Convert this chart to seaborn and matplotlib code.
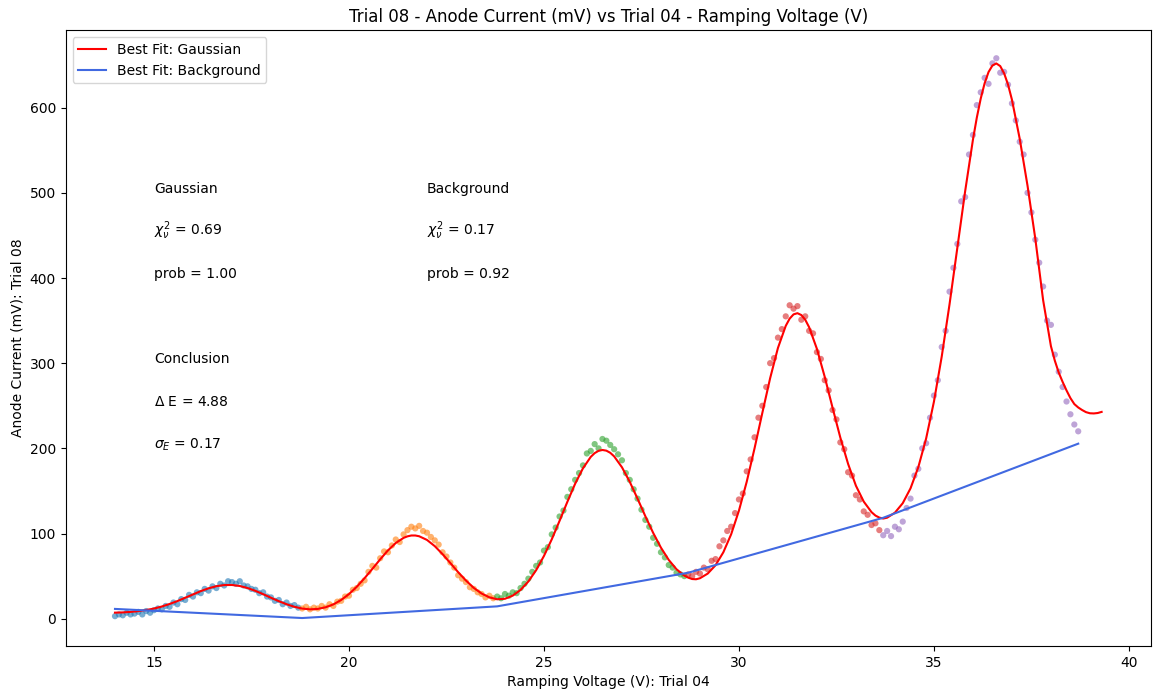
import matplotlib
matplotlib.use("Agg")
import matplotlib.pyplot as plt
import pandas as pd
import seaborn as sns

# Measured points, one list per peak window (colour groups in the plot)
seg1_v = [14.0, 14.1, 14.2, 14.3, 14.4, 14.5, 14.6, 14.7, 14.8, 14.9,
          15.0, 15.1, 15.2, 15.3, 15.4, 15.5, 15.6, 15.7, 15.8, 15.9,
          16.0, 16.1, 16.2, 16.3, 16.4, 16.5, 16.6, 16.7, 16.8, 16.9,
          17.0, 17.1, 17.2, 17.3, 17.4, 17.5, 17.6, 17.7, 17.8, 17.9,
          18.0, 18.1, 18.2, 18.3, 18.4, 18.5, 18.6, 18.7]
seg1_i = [3, 5, 4, 7, 5, 6, 8, 5, 9, 7,
          10, 12, 11, 15, 14, 19, 17, 23, 22, 28,
          26, 31, 30, 35, 33, 38, 36, 41, 39, 44,
          43, 41, 44, 39, 38, 35, 34, 30, 31, 26,
          25, 21, 22, 17, 19, 15, 16, 13]

seg2_v = [18.8, 18.9, 19.0, 19.1, 19.2, 19.3, 19.4, 19.5, 19.6, 19.7,
          19.8, 19.9, 20.0, 20.1, 20.2, 20.3, 20.4, 20.5, 20.6, 20.7,
          20.8, 20.9, 21.0, 21.1, 21.2, 21.3, 21.4, 21.5, 21.6, 21.7,
          21.8, 21.9, 22.0, 22.1, 22.2, 22.3, 22.4, 22.5, 22.6, 22.7,
          22.8, 22.9, 23.0, 23.1, 23.2, 23.3, 23.4, 23.5, 23.6, 23.7]
seg2_i = [12, 14, 11, 13, 12, 15, 13, 17, 15, 20,
          21, 26, 27, 34, 36, 41, 45, 55, 62, 60,
          71, 79, 78, 86, 93, 90, 99, 104, 108, 106,
          109, 103, 101, 96, 92, 87, 78, 73, 66, 60,
          51, 47, 43, 37, 35, 31, 29, 25, 27, 24]

seg3_v = [23.8, 23.9, 24.0, 24.1, 24.2, 24.3, 24.4, 24.5, 24.6, 24.7,
          24.8, 24.9, 25.0, 25.1, 25.2, 25.3, 25.4, 25.5, 25.6, 25.7,
          25.8, 25.9, 26.0, 26.1, 26.2, 26.3, 26.4, 26.5, 26.6, 26.7,
          26.8, 26.9, 27.0, 27.1, 27.2, 27.3, 27.4, 27.5, 27.6, 27.7,
          27.8, 27.9, 28.0, 28.1, 28.2, 28.3, 28.4, 28.5, 28.6]
seg3_i = [26, 24, 29, 27, 31, 30, 36, 41, 47, 55,
          62, 66, 80, 84, 99, 107, 120, 127, 143, 152,
          163, 171, 180, 194, 197, 205, 200, 211, 209, 204,
          199, 193, 186, 171, 163, 152, 141, 128, 116, 108,
          95, 88, 78, 72, 63, 60, 54, 52, 50]

seg4_v = [28.7, 28.8, 28.9, 29.0, 29.1, 29.2, 29.3, 29.4, 29.5, 29.6,
          29.7, 29.8, 29.9, 30.0, 30.1, 30.2, 30.3, 30.4, 30.5, 30.6,
          30.7, 30.8, 30.9, 31.0, 31.1, 31.2, 31.3, 31.4, 31.5, 31.6,
          31.7, 31.8, 31.9, 32.0, 32.1, 32.2, 32.3, 32.4, 32.5, 32.6,
          32.7, 32.8, 32.9, 33.0, 33.1, 33.2, 33.3, 33.4, 33.5, 33.6]
seg4_i = [52, 50, 55, 53, 60, 58, 68, 70, 85, 92,
          103, 108, 124, 140, 147, 173, 187, 213, 236, 250,
          272, 300, 306, 330, 340, 355, 368, 364, 367, 351,
          355, 338, 335, 313, 305, 280, 268, 245, 234, 207,
          199, 172, 168, 145, 140, 126, 122, 110, 112, 104]

seg5_v = [33.7, 33.8, 33.9, 34.0, 34.1, 34.2, 34.3, 34.4, 34.5, 34.6,
          34.7, 34.8, 34.9, 35.0, 35.1, 35.2, 35.3, 35.4, 35.5, 35.6,
          35.7, 35.8, 35.9, 36.0, 36.1, 36.2, 36.3, 36.4, 36.5, 36.6,
          36.7, 36.8, 36.9, 37.0, 37.1, 37.2, 37.3, 37.4, 37.5, 37.6,
          37.7, 37.8, 37.9, 38.0, 38.1, 38.2, 38.3, 38.4, 38.5, 38.6,
          38.7]
seg5_i = [98, 103, 97, 108, 105, 114, 130, 141, 168, 176,
          200, 206, 236, 262, 280, 319, 338, 384, 412, 440,
          490, 495, 545, 568, 603, 618, 635, 628, 652, 658,
          641, 642, 627, 605, 585, 560, 545, 500, 477, 445,
          418, 390, 350, 345, 310, 290, 272, 255, 240, 228,
          220]

# Gaussian best-fit curve
fit_v = [14.0, 14.2, 14.4, 14.6, 14.8, 15.0, 15.2, 15.4, 15.6, 15.8,
         16.0, 16.2, 16.4, 16.6, 16.8, 17.0, 17.2, 17.4, 17.6, 17.8,
         18.0, 18.2, 18.4, 18.6, 18.8, 19.0, 19.2, 19.4, 19.6, 19.8,
         20.0, 20.2, 20.4, 20.6, 20.8, 21.0, 21.2, 21.4, 21.5, 21.6,
         21.7, 21.8, 22.0, 22.2, 22.4, 22.6, 22.8, 23.0, 23.2, 23.4,
         23.6, 23.8, 24.0, 24.2, 24.4, 24.6, 24.8, 25.0, 25.2, 25.4,
         25.6, 25.8, 26.0, 26.2, 26.3, 26.4, 26.5, 26.6, 26.7, 26.8,
         27.0, 27.2, 27.4, 27.6, 27.8, 28.0, 28.2, 28.4, 28.6, 28.7,
         28.8, 28.9, 29.0, 29.2, 29.4, 29.6, 29.8, 30.0, 30.2, 30.4,
         30.6, 30.8, 31.0, 31.2, 31.3, 31.4, 31.5, 31.6, 31.7, 31.8,
         32.0, 32.2, 32.4, 32.6, 32.8, 33.0, 33.2, 33.4, 33.5, 33.6,
         33.7, 33.8, 34.0, 34.2, 34.4, 34.6, 34.8, 35.0, 35.2, 35.4,
         35.6, 35.8, 36.0, 36.1, 36.2, 36.3, 36.4, 36.5, 36.6, 36.7,
         36.8, 36.9, 37.0, 37.2, 37.4, 37.6, 37.8, 38.0, 38.1, 38.2,
         38.3, 38.4, 38.5, 38.6, 38.7, 38.8, 38.9, 39.0, 39.1, 39.2,
         39.3]
fit_i = [7.1, 7.4, 8.0, 8.9, 10.2, 11.9, 14.3, 17.3, 20.7, 24.6,
         28.6, 32.4, 35.7, 38.2, 39.5, 39.6, 38.4, 36.0, 32.7, 28.8,
         24.6, 20.6, 17.0, 14.0, 11.9, 11.0, 11.5, 13.4, 16.8, 22.0,
         28.9, 37.5, 47.6, 58.5, 69.7, 80.2, 88.9, 94.9, 96.7, 97.7,
         97.7, 96.8, 92.5, 85.2, 75.8, 65.3, 54.6, 44.8, 36.2, 29.6,
         25.1, 22.8, 23.4, 27.1, 33.8, 43.7, 57.0, 73.7, 93.2, 114.9,
         137.2, 158.5, 176.6, 190.0, 194.4, 197.1, 198.1, 197.3, 194.8, 190.6,
         177.8, 160.7, 140.9, 120.3, 100.8, 83.4, 69.0, 58.0, 50.6, 48.2,
         46.6, 46.3, 47.5, 53.0, 62.8, 78.0, 99.1, 126.9, 160.9, 200.0,
         241.7, 282.4, 317.9, 343.8, 352.3, 357.3, 358.7, 356.5, 351.0, 342.2,
         316.7, 283.9, 247.8, 212.6, 181.6, 156.1, 137.5, 125.1, 121.1, 118.7,
         117.6, 118.6, 124.5, 135.6, 153.1, 178.0, 211.6, 254.8, 307.8, 369.1,
         435.3, 501.7, 562.3, 588.4, 610.7, 628.6, 641.8, 649.5, 651.9, 648.8,
         640.3, 627.1, 609.4, 563.4, 508.4, 446.0, 374.0, 320.0, 303.0, 289.0,
         278.0, 268.0, 259.0, 252.0, 248.0, 245.0, 242.5, 241.2, 241.0, 241.5,
         242.8]

# Background best-fit (through the troughs)
bg_v = [14.0, 18.8, 23.8, 28.7, 33.7, 38.7]
bg_i = [11.5, 0.8, 14.5, 54.0, 118.5, 205.5]

segments = [(seg1_v, seg1_i), (seg2_v, seg2_i), (seg3_v, seg3_i),
            (seg4_v, seg4_i), (seg5_v, seg5_i)]
df = pd.concat([pd.DataFrame({"v": v, "i": i, "seg": n})
                for n, (v, i) in enumerate(segments)], ignore_index=True)

fig, ax = plt.subplots(figsize=(11.6, 6.99), dpi=100)
fig.subplots_adjust(left=0.0566, right=0.9922, top=0.9567, bottom=0.0758)

sns.scatterplot(data=df, x="v", y="i", hue="seg", palette="tab10",
                s=20, alpha=0.6, linewidth=0, legend=False, ax=ax)
sns.lineplot(x=fit_v, y=fit_i, color="red", sort=False, estimator=None,
             label="Best Fit: Gaussian", ax=ax)
sns.lineplot(x=bg_v, y=bg_i, color="royalblue", sort=False, estimator=None,
             label="Best Fit: Background", ax=ax)

ax.text(15, 500, "Gaussian")
ax.text(15, 450, r"$\chi^2_\nu$ = 0.69")
ax.text(15, 400, "prob = 1.00")
ax.text(22, 500, "Background")
ax.text(22, 450, r"$\chi^2_\nu$ = 0.17")
ax.text(22, 400, "prob = 0.92")
ax.text(15, 300, "Conclusion")
ax.text(15, 250, r"$\Delta$ E = 4.88")
ax.text(15, 200, r"$\sigma_E$ = 0.17")

ax.set_title("Trial 08 - Anode Current (mV) vs Trial 04 - Ramping Voltage (V)")
ax.set_xlabel("Ramping Voltage (V): Trial 04")
ax.set_ylabel("Anode Current (mV): Trial 08")
ax.legend(loc="upper left")

fig.savefig("out.png")
